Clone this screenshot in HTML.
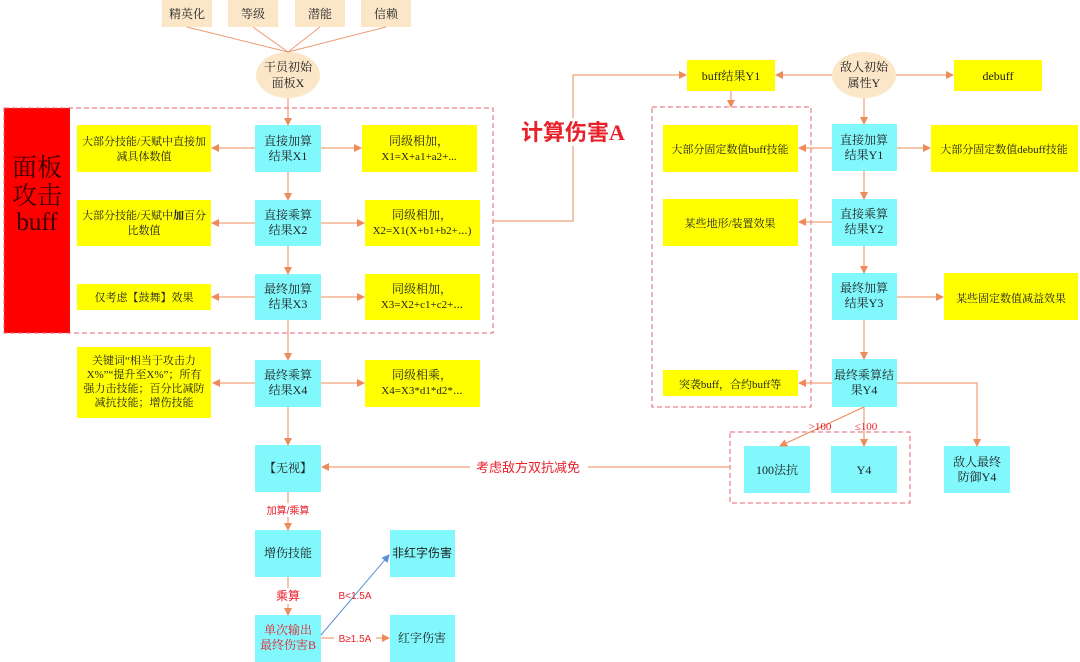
<!DOCTYPE html>
<html><head><meta charset="utf-8"><style>
html,body{margin:0;padding:0;background:#fff;}
svg{display:block;}
text{font-family:"Liberation Serif","Noto Serif CJK SC","Noto Sans CJK SC",serif;font-size:12px;fill:#222;text-anchor:middle;}
.s{font-family:"Liberation Sans","Noto Sans CJK SC",sans-serif;}
.r{fill:#e8202a;}
.t{font-size:11px;}
</style></head><body>
<svg width="1080" height="662" viewBox="0 0 1080 662" xmlns="http://www.w3.org/2000/svg">
<defs>
<marker id="a" markerWidth="8" markerHeight="8" refX="7" refY="4" orient="auto" markerUnits="userSpaceOnUse"><path d="M0,0 L8,4 L0,8 Z" fill="#ef8a5a"/></marker>
<marker id="b" markerWidth="8" markerHeight="8" refX="7" refY="4" orient="auto" markerUnits="userSpaceOnUse"><path d="M0,0 L8,4 L0,8 Z" fill="#5b8fd6"/></marker>
</defs>
<g fill="#fbe6c8">
<rect x="162" y="0" width="50" height="27"/><rect x="228" y="0" width="50" height="27"/>
<rect x="295" y="0" width="50" height="27"/><rect x="361" y="0" width="50" height="27"/>
<ellipse cx="288" cy="75" rx="32" ry="23"/><ellipse cx="864" cy="75" rx="32" ry="23"/>
</g>
<g class="s" font-size="12">
<text x="187" y="18">精英化</text><text x="253" y="18">等级</text><text x="320" y="18">潜能</text><text x="386" y="18">信赖</text>
</g>
<text x="288" y="71">干员初始</text><text x="288" y="87">面板X</text>
<text x="864" y="71">敌人初始</text><text x="864" y="87">属性Y</text>
<g stroke="#ef9a70" stroke-width="1" fill="none">
<line x1="187" y1="27" x2="288" y2="52"/><line x1="253" y1="27" x2="288" y2="52"/>
<line x1="320" y1="27" x2="288" y2="52"/><line x1="386" y1="27" x2="288" y2="52"/>
</g>
<rect x="4" y="108" width="66" height="225" fill="#ff0000"/>
<text x="37" y="176" style="fill:#3a0000;font-size:25px">面板</text>
<text x="37" y="204" style="fill:#3a0000;font-size:25px">攻击</text>
<text x="37" y="230" style="fill:#3a0000;font-size:25px">buff</text>
<g fill="none" stroke="#e86070" stroke-dasharray="5,3">
<rect x="4" y="108" width="489" height="225"/>
<rect x="652" y="107" width="159" height="300"/>
<rect x="730" y="432" width="180" height="71"/>
</g>
<g fill="#ffff00">
<rect x="77" y="125" width="134" height="47"/><rect x="77" y="200" width="134" height="46"/>
<rect x="77" y="284" width="134" height="26"/><rect x="77" y="347" width="134" height="71"/>
<rect x="362" y="125" width="115" height="47"/><rect x="365" y="200" width="115" height="46"/>
<rect x="365" y="274" width="115" height="46"/><rect x="365" y="360" width="115" height="47"/>
<rect x="687" y="60" width="88" height="31"/><rect x="954" y="60" width="88" height="31"/>
<rect x="663" y="125" width="135" height="47"/><rect x="663" y="199" width="135" height="47"/>
<rect x="663" y="370" width="135" height="26"/>
<rect x="931" y="125" width="147" height="47"/><rect x="944" y="273" width="134" height="47"/>
</g>
<g fill="#80f8fc">
<rect x="255" y="125" width="66" height="47"/><rect x="255" y="200" width="66" height="46"/>
<rect x="255" y="274" width="66" height="46"/><rect x="255" y="360" width="66" height="47"/>
<rect x="255" y="445" width="66" height="47"/><rect x="255" y="530" width="66" height="47"/>
<rect x="255" y="615" width="66" height="47"/>
<rect x="390" y="530" width="65" height="47"/><rect x="390" y="615" width="65" height="47"/>
<rect x="832" y="124" width="65" height="47"/><rect x="832" y="199" width="65" height="47"/>
<rect x="832" y="273" width="65" height="47"/><rect x="832" y="359" width="65" height="48"/>
<rect x="744" y="446" width="66" height="47"/><rect x="831" y="446" width="66" height="47"/>
<rect x="944" y="446" width="66" height="47"/>
</g>
<g stroke="#ef8a5a" stroke-width="1" fill="none" marker-end="url(#a)">
<line x1="288" y1="98" x2="288" y2="125"/>
<line x1="288" y1="172" x2="288" y2="200"/><line x1="288" y1="246" x2="288" y2="274"/>
<line x1="288" y1="320" x2="288" y2="360"/><line x1="288" y1="407" x2="288" y2="445"/>
<line x1="288" y1="492" x2="288" y2="530"/><line x1="288" y1="577" x2="288" y2="615"/>
<line x1="255" y1="148" x2="212" y2="148"/><line x1="255" y1="223" x2="212" y2="223"/>
<line x1="255" y1="297" x2="212" y2="297"/><line x1="255" y1="383" x2="213" y2="383"/>
<line x1="321" y1="148" x2="361" y2="148"/><line x1="321" y1="223" x2="364" y2="223"/>
<line x1="321" y1="297" x2="364" y2="297"/><line x1="321" y1="383" x2="364" y2="383"/>
<polyline points="493,221 573,221 573,75 686,75"/>
<line x1="832" y1="75" x2="776" y2="75"/><line x1="896" y1="75" x2="953" y2="75"/>
<line x1="731" y1="91" x2="731" y2="107"/>
<line x1="864" y1="98" x2="864" y2="124"/>
<line x1="864" y1="171" x2="864" y2="199"/><line x1="864" y1="246" x2="864" y2="273"/>
<line x1="864" y1="320" x2="864" y2="359"/>
<line x1="832" y1="148" x2="799" y2="148"/><line x1="897" y1="148" x2="930" y2="148"/>
<line x1="832" y1="222" x2="799" y2="222"/><line x1="897" y1="297" x2="943" y2="297"/>
<line x1="832" y1="383" x2="799" y2="383"/>
<polyline points="897,383 977,383 977,446"/>
<line x1="864" y1="407" x2="780" y2="446"/><line x1="864" y1="407" x2="864" y2="446"/>
<line x1="730" y1="467" x2="322" y2="467"/>
<line x1="321" y1="638" x2="389" y2="638"/>
</g>
<line x1="321" y1="635" x2="389" y2="555" stroke="#5b8fd6" stroke-width="1" marker-end="url(#b)"/>
<rect x="518" y="118" width="110" height="28" fill="#fff"/>
<text x="573" y="140" style="fill:#e8202a;font-size:22px;font-weight:bold;font-family:'Liberation Serif','Noto Sans CJK SC',sans-serif">计算伤害A</text>
<rect x="470" y="458" width="118" height="18" fill="#fff"/>
<text x="528" y="472" class="s r" style="font-size:13px">考虑敌方双抗减免</text>
<rect x="265" y="503" width="46" height="14" fill="#fff"/>
<text x="288" y="514" class="s r" style="font-size:10px">加算/乘算</text>
<rect x="272" y="588" width="32" height="16" fill="#fff"/>
<text x="288" y="600" class="s r" style="font-size:12px">乘算</text>
<text x="355" y="599" class="s r" style="font-size:10px">B&lt;1.5A</text>
<rect x="334" y="631" width="42" height="14" fill="#fff"/>
<text x="355" y="642" class="s r" style="font-size:10px">B≥1.5A</text>
<text x="820" y="430" class="r" style="font-size:11px">&gt;100</text>
<text x="866" y="430" class="r" style="font-size:11px">≤100</text>
<text x="144" y="145" class="t">大部分技能/天赋中直接加</text><text x="144" y="160" class="t">减具体数值</text>
<text x="144" y="219" class="t">大部分技能/天赋中<tspan font-weight="bold">加</tspan>百分</text><text x="144" y="234" class="t">比数值</text>
<text x="144" y="301" class="t">仅考虑【鼓舞】效果</text>
<text x="144" y="364" class="t">关键词“相当于攻击力</text><text x="144" y="378" class="t">X%”“提升至X%”；所有</text>
<text x="144" y="392" class="t">强力击技能；百分比减防</text><text x="144" y="406" class="t">减抗技能；增伤技能</text>
<text x="288" y="145">直接加算</text><text x="288" y="160">结果X1</text>
<text x="288" y="219">直接乘算</text><text x="288" y="234">结果X2</text>
<text x="288" y="293">最终加算</text><text x="288" y="308">结果X3</text>
<text x="288" y="379">最终乘算</text><text x="288" y="394">结果X4</text>
<text x="288" y="472">【无视】</text>
<text x="288" y="557">增伤技能</text>
<text x="288" y="634" class="r">单次输出</text><text x="288" y="649" class="r">最终伤害B</text>
<text x="422" y="557" class="s">非红字伤害</text><text x="422" y="642">红字伤害</text>
<text x="419" y="145">同级相加，</text><text x="419" y="160" class="t">X1=X+a1+a2+...</text>
<text x="422" y="219">同级相加，</text><text x="422" y="234" class="t">X2=X1(X+b1+b2+⋯)</text>
<text x="422" y="293">同级相加，</text><text x="422" y="308" class="t">X3=X2+c1+c2+⋯</text>
<text x="422" y="379">同级相乘，</text><text x="422" y="394" class="t">X4=X3*d1*d2*⋯</text>
<text x="731" y="80">buff结果Y1</text><text x="998" y="80">debuff</text>
<text x="730" y="153" class="t">大部分固定数值buff技能</text>
<text x="730" y="227" class="t">某些地形/装置效果</text>
<text x="730" y="388" class="t">突袭buff，合约buff等</text>
<text x="1004" y="153" class="t">大部分固定数值debuff技能</text>
<text x="1011" y="302" class="t">某些固定数值减益效果</text>
<text x="864" y="144">直接加算</text><text x="864" y="159">结果Y1</text>
<text x="864" y="218">直接乘算</text><text x="864" y="233">结果Y2</text>
<text x="864" y="292">最终加算</text><text x="864" y="307">结果Y3</text>
<text x="864" y="379">最终乘算结</text><text x="864" y="394">果Y4</text>
<text x="777" y="474">100法抗</text><text x="864" y="474">Y4</text>
<text x="977" y="466">敌人最终</text><text x="977" y="481">防御Y4</text>
</svg>
</body></html>
